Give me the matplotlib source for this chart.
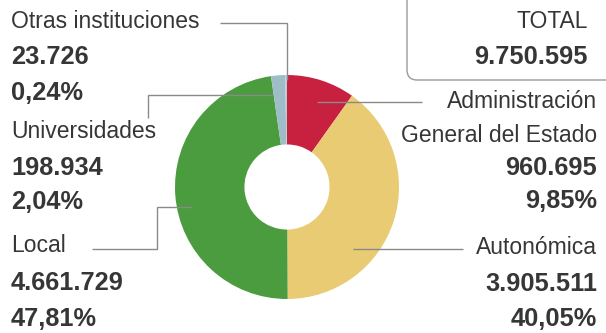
import matplotlib
matplotlib.use("Agg")
import matplotlib.pyplot as plt
from matplotlib.patches import FancyBboxPatch

# ---- data ----
categories = ["Administración\nGeneral del Estado", "Autonómica", "Local", "Universidades", "Otras instituciones"]
values = [960695, 3905511, 4661729, 198934, 23726]
value_labels = ["960.695", "3.905.511", "4.661.729", "198.934", "23.726"]
pct_labels = ["9,85%", "40,05%", "47,81%", "2,04%", "0,24%"]
total_label = "9.750.595"
colors = ["#C8213F", "#E9CB74", "#4B9B3F", "#9FBDC7", "#B7CBD1"]

W, H = 606, 333
fig = plt.figure(figsize=(W / 100, H / 100), dpi=100)
ax = fig.add_axes([0, 0, 1, 1])

def Y(py):
    return H - py

cx, cy, R = 287, 187, 112
ax.pie(values, colors=colors, startangle=90, counterclock=False,
       center=(cx, Y(cy)), radius=R,
       wedgeprops=dict(width=R * 0.62, linewidth=0))

ax.set_xlim(0, W)
ax.set_ylim(0, H)
ax.set_aspect("auto")
ax.axis("off")

TC = "#363636"
FONT = "Liberation Sans"
LS = 16.5
NS = 18.3
LC = "#8a8a8a"
LW = 1.0

def lab(x, y, s, ha, bold=False):
    ax.text(x, Y(y), s, ha=ha, va="center", color=TC, family=FONT,
            fontsize=NS if bold else LS, fontweight="bold" if bold else "normal")

# left column
xl = 11
lab(xl, 22, "Otras instituciones", "left")
lab(xl, 57, value_labels[4], "left", True)
lab(xl, 93, pct_labels[4], "left", True)
lab(xl, 132, categories[3], "left")
lab(xl, 168, value_labels[3], "left", True)
lab(xl, 202, pct_labels[3], "left", True)
lab(xl, 246, categories[2], "left")
lab(xl, 283, value_labels[2], "left", True)
lab(xl, 319, pct_labels[2], "left", True)

# right column
xr = 597
lab(xr, 102, "Administración", "right")
lab(xr, 135, "General del Estado", "right")
lab(xr, 168, value_labels[0], "right", True)
lab(xr, 201, pct_labels[0], "right", True)
lab(xr, 248, categories[1], "right")
lab(xr, 284, value_labels[1], "right", True)
lab(xr, 319, pct_labels[1], "right", True)

# total box
box = FancyBboxPatch((407, Y(80)), 230, 100, boxstyle="round,pad=0,rounding_size=10",
                     fc="white", ec="#9a9a9a", lw=1.0)
ax.add_patch(box)
lab(588, 22, "TOTAL", "right")
lab(588, 57, total_label, "right", True)

# leader lines
def line(pts):
    ax.plot([p[0] for p in pts], [Y(p[1]) for p in pts], color=LC, lw=LW,
            solid_capstyle="butt", solid_joinstyle="miter")

line([(220, 23), (287, 23), (287, 80)])
line([(148, 118), (148, 95), (273, 95)])
line([(92, 249), (157, 249), (157, 207), (192, 207)])
line([(317, 102), (422, 102)])
line([(353, 249), (463, 249)])

fig.savefig("out.png", dpi=100, facecolor="white")
